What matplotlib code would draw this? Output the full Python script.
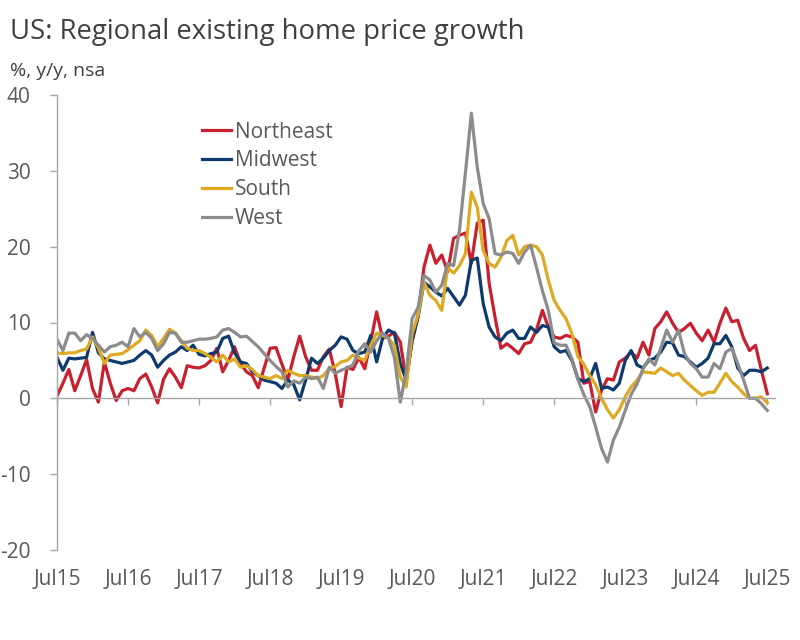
import matplotlib
matplotlib.use("Agg")
import matplotlib.pyplot as plt
import numpy as np

plt.rcParams['font.family'] = ['Open Sans', 'DejaVu Sans']
plt.rcParams['axes.unicode_minus'] = False

# monthly y/y % change, Jul 2015 .. Jul 2025
northeast = [0.3, 2.0, 3.8, 1.0, 3.0, 5.1, 1.3, -0.5, 4.8, 2.0,
             -0.3, 1.0, 1.3, 1.0, 2.6, 3.2, 1.5, -0.6, 2.5, 3.9,
             2.8, 1.4, 4.3, 4.1, 4.0, 4.3, 5.0, 6.6, 3.5, 5.0,
             6.8, 4.6, 3.5, 3.0, 1.4, 4.0, 6.6, 6.7, 4.5, 2.4,
             5.5, 8.2, 5.5, 3.7, 3.7, 5.5, 6.5, 3.3, -1.1, 4.1,
             3.8, 5.4, 3.9, 7.5, 11.4, 7.9, 8.2, 8.7, 7.4, 2.4,
             7.6, 11.0, 17.3, 20.2, 17.8, 18.9, 16.7, 21.1, 21.5, 21.8,
             17.8, 23.1, 23.5, 15.2, 10.7, 6.6, 7.2, 6.6, 5.9, 7.2,
             7.4, 9.0, 11.6, 9.4, 8.1, 7.9, 8.3, 8.1, 7.4, 2.0,
             2.2, -1.8, 1.1, 2.6, 2.4, 4.8, 5.3, 6.1, 5.3, 7.4,
             5.7, 9.2, 10.1, 11.4, 9.9, 8.7, 9.2, 9.9, 8.6, 7.6,
             9.0, 7.4, 9.9, 11.9, 10.1, 10.3, 7.9, 6.3, 7.0, 3.7,
             0.6]
midwest = [5.4, 3.7, 5.3, 5.2, 5.3, 5.4, 8.7, 6.0, 5.2, 5.0,
           4.8, 4.6, 4.8, 5.0, 5.7, 6.3, 5.7, 4.1, 5.0, 5.7,
           6.1, 6.8, 6.3, 7.0, 5.8, 5.6, 5.9, 6.1, 7.9, 8.2,
           6.0, 4.8, 4.6, 3.5, 3.0, 2.4, 2.2, 2.0, 1.3, 2.4,
           1.8, -0.2, 2.4, 5.3, 4.6, 5.3, 6.3, 7.0, 8.1, 7.8,
           6.3, 5.9, 6.1, 8.3, 4.8, 7.9, 9.0, 8.6, 4.6, 2.4,
           7.6, 10.7, 15.3, 14.7, 14.0, 13.5, 14.5, 13.4, 12.3, 13.6,
           18.2, 18.5, 12.5, 9.4, 8.1, 7.6, 8.6, 9.0, 7.9, 7.9,
           9.4, 8.7, 9.6, 9.4, 6.8, 6.1, 6.3, 5.0, 2.6, 2.2,
           2.6, 4.6, 1.3, 1.5, 1.1, 2.0, 5.0, 6.3, 4.4, 4.0,
           5.0, 5.3, 6.1, 7.4, 7.3, 5.7, 5.5, 4.8, 4.1, 4.6,
           5.3, 7.2, 7.2, 8.3, 6.8, 4.0, 3.0, 3.7, 3.7, 3.5,
           4.0]
south = [6.0, 5.9, 6.0, 6.0, 6.3, 6.5, 8.1, 6.6, 4.6, 5.7,
         5.8, 5.9, 6.4, 7.0, 7.6, 9.0, 8.3, 6.8, 7.9, 9.1,
         8.6, 7.6, 6.6, 6.3, 6.3, 5.9, 5.4, 4.8, 5.7, 4.8,
         5.2, 4.1, 4.3, 3.8, 3.0, 2.8, 2.6, 3.0, 2.6, 3.7,
         3.3, 3.0, 3.0, 2.8, 2.6, 3.0, 3.9, 4.2, 4.8, 5.0,
         5.7, 5.3, 5.0, 7.0, 8.6, 8.3, 7.9, 7.0, 2.8, 1.5,
         8.5, 11.0, 15.3, 13.6, 12.9, 11.6, 17.3, 16.5, 17.5, 19.1,
         27.2, 25.2, 19.5, 17.8, 17.3, 18.6, 20.8, 21.5, 18.9, 20.0,
         20.2, 20.0, 18.9, 15.6, 12.9, 11.6, 10.5, 8.5, 5.5, 4.5,
         3.0, 1.8, 0.0, -1.5, -2.6, -1.5, 0.2, 1.5, 2.4, 3.5,
         3.4, 3.3, 4.0, 3.5, 3.0, 3.3, 2.4, 1.7, 1.0, 0.4,
         0.8, 0.8, 2.0, 3.3, 2.2, 1.5, 0.6, 0.0, 0.0, 0.2,
         -0.6]
west = [7.8, 6.3, 8.6, 8.6, 7.6, 8.4, 7.9, 7.0, 6.1, 6.8,
        7.0, 7.4, 6.8, 9.2, 8.1, 8.7, 7.9, 6.3, 7.2, 8.7,
        8.6, 7.4, 7.4, 7.6, 7.8, 7.8, 7.9, 8.1, 9.0, 9.2,
        8.7, 8.1, 8.2, 7.5, 6.8, 5.9, 5.0, 4.2, 3.5, 1.5,
        2.3, 2.0, 2.8, 2.6, 2.8, 1.3, 4.1, 3.3, 3.7, 4.0,
        4.4, 6.3, 7.2, 6.1, 7.6, 8.6, 7.9, 5.4, -0.5, 3.5,
        10.5, 12.0, 16.2, 15.6, 14.0, 14.9, 17.8, 17.5, 22.2, 29.7,
        37.6, 30.5, 25.7, 23.7, 19.1, 18.9, 19.3, 19.1, 17.8, 19.3,
        20.2, 17.3, 14.2, 11.6, 7.3, 7.0, 7.0, 5.2, 2.5, 0.5,
        -1.1, -3.8, -6.6, -8.4, -5.5, -3.8, -1.6, 0.5, 1.9, 3.9,
        5.2, 4.4, 6.6, 9.0, 7.4, 9.0, 5.9, 4.6, 3.9, 2.8,
        2.8, 4.6, 3.9, 6.1, 6.6, 4.6, 2.4, 0.0, 0.0, -0.7,
        -1.6]

series_names = ["Northeast", "Midwest", "South", "West"]
series_colors = ["#C8202F", "#0E3A6E", "#DDAA22", "#8C8C8C"]
tick_labels = ["Jul15", "Jul16", "Jul17", "Jul18", "Jul19", "Jul20",
               "Jul21", "Jul22", "Jul23", "Jul24", "Jul25"]

months = np.arange(len(northeast))
axis_grey = "#A6A6A6"
text_grey = "#595959"

fig = plt.figure(figsize=(8, 6.4), dpi=100)
ax = fig.add_axes([57 / 800, 90 / 640, 718 / 800, 455 / 640])

for vals, name, col in zip([northeast, midwest, south, west], series_names, series_colors):
    ax.plot(months, vals, color=col, lw=2.3, label=name, solid_joinstyle="round")

ax.set_xlim(0, 121.3)
ax.set_ylim(-20, 40)
ax.set_yticks(np.arange(-20, 41, 10))

for s in ["top", "right"]:
    ax.spines[s].set_visible(False)
ax.spines["left"].set_color(axis_grey)
ax.spines["bottom"].set_color(axis_grey)
ax.spines["bottom"].set_position(("data", 0))
ax.spines["left"].set_linewidth(1)
ax.spines["bottom"].set_linewidth(1)

ax.tick_params(axis="y", direction="out", length=5, width=1, color=axis_grey,
               labelsize=15, labelcolor=text_grey, pad=14)
ax.set_xticks(np.arange(0, 121, 12))
ax.tick_params(axis="x", direction="out", length=5, width=1, color=axis_grey,
               labelbottom=False)

sec = ax.secondary_xaxis(0.0)
sec.set_xticks(np.arange(0, 121, 12))
sec.set_xticklabels(tick_labels)
sec.tick_params(axis="x", length=0, labelsize=15, labelcolor=text_grey, pad=14)
sec.spines["bottom"].set_visible(False)

leg = ax.legend(loc="upper left", bbox_to_anchor=(0.19, 0.96), frameon=False,
                fontsize=15, handlelength=1.4, handletextpad=0.2,
                labelspacing=0.38, borderaxespad=0)
for t in leg.get_texts():
    t.set_color(text_grey)

fig.text(10 / 800, 1 - 32 / 640, "US: Regional existing home price growth",
         fontsize=19.8, color="#404040", va="center", ha="left")
fig.text(10 / 800, 1 - 71 / 640, "%, y/y, nsa", fontsize=14, color="#404040",
         va="center", ha="left")

fig.savefig("out.png", dpi=100)
